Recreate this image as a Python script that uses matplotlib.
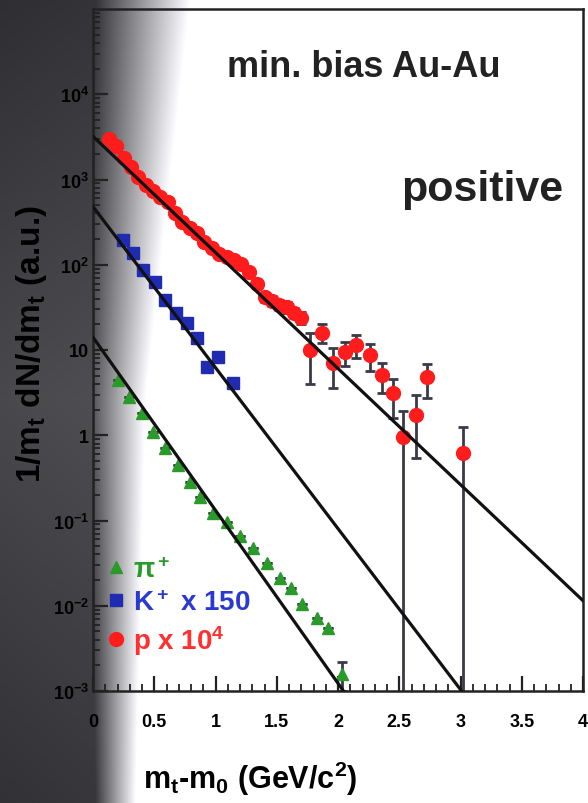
import numpy as np
import matplotlib.pyplot as plt
from matplotlib.ticker import MultipleLocator, LogLocator, NullFormatter

plt.rcParams['font.family'] = ['Liberation Sans', 'DejaVu Sans']
plt.rcParams['font.weight'] = 'bold'
plt.rcParams['mathtext.fontset'] = 'custom'
plt.rcParams['mathtext.rm'] = 'Liberation Sans:bold'
plt.rcParams['mathtext.bf'] = 'Liberation Sans:bold'
plt.rcParams['mathtext.it'] = 'Liberation Sans:bold'
plt.rcParams['mathtext.default'] = 'bf'

# pi+ spectrum
pi_x = [0.20, 0.29, 0.40, 0.49, 0.59, 0.69, 0.79, 0.87, 0.98, 1.09, 1.20, 1.31,
        1.42, 1.53, 1.62, 1.71, 1.83, 1.92, 2.03]
pi_y = [4.5, 2.8, 1.8, 1.1, 0.71, 0.45, 0.28, 0.19, 0.123, 0.095, 0.066, 0.047,
        0.032, 0.021, 0.016, 0.0105, 0.0072, 0.0055, 0.0016]
pi_err = [0, 0, 0, 0, 0, 0, 0, 0, 0, 0, 0, 0, 0, 0, 0, 0, 0, 0, 0.0006]

# K+ spectrum (x 150)
k_x = [0.245, 0.33, 0.41, 0.51, 0.59, 0.68, 0.77, 0.85, 0.93, 1.02, 1.14]
k_y = [195, 138, 87, 62, 39, 27.5, 21, 14, 6.3, 8.3, 4.1]

# proton spectrum (x 10^4)
p_x = [0.13, 0.19, 0.25, 0.31, 0.37, 0.43, 0.49, 0.55, 0.61, 0.67, 0.73, 0.79,
       0.85, 0.91, 0.97, 1.03, 1.09, 1.15, 1.21, 1.27, 1.34, 1.40, 1.46, 1.52,
       1.58, 1.64, 1.70, 1.77, 1.87, 1.96, 2.06, 2.15, 2.26, 2.36, 2.45, 2.53,
       2.64, 2.73, 3.02]
p_y = [2950, 2500, 1800, 1400, 1070, 870, 740, 630, 550, 400, 316, 270,
       234, 186, 158, 135, 123, 115, 102, 83, 60, 42, 38, 34,
       32, 27.5, 24, 10, 16, 7.1, 9.5, 11.5, 8.7, 5.1, 3.1, 0.95,
       1.74, 4.8, 0.62]
p_err = [60, 50, 36, 28, 21, 17, 15, 13, 11, 8, 6.3, 5.4,
         4.7, 3.7, 3.2, 3.4, 3.1, 3.5, 3.1, 6, 5, 5, 5, 4.8,
         4.5, 4, 4, 6, 4, 3.5, 3, 3.5, 3, 2, 1.5, 1.0,
         1.2, 2.1, 0.63]

# exponential fits: amplitude, inverse slope (GeV)
fit_amp = {'pi': 14.1, 'k': 480.0, 'p': 3200.0}
fit_T = {'pi': 0.214, 'k': 0.230, 'p': 0.319}

x_ticks = [0, 0.5, 1, 1.5, 2, 2.5, 3, 3.5, 4]
x_tick_labels = ['0', '0.5', '1', '1.5', '2', '2.5', '3', '3.5', '4']
y_ticks = [1e-3, 1e-2, 1e-1, 1, 10, 1e2, 1e3, 1e4]
y_tick_labels = ['10$^{-3}$', '10$^{-2}$', '10$^{-1}$', '1', '10',
                 '10$^{2}$', '10$^{3}$', '10$^{4}$']

fig = plt.figure(figsize=(5.88, 8.04), dpi=100)

# scanned-page shading on the left, wider near the top
cols = np.arange(588)
grad = np.ones((804, 588))
for r in range(804):
    we = np.interp(r, [0, 400, 804], [190, 145, 135])
    wd = np.interp(r, [0, 400, 804], [95, 55, 40])
    dk = np.interp(r, [0, 400, 804], [52, 78, 55])
    grad[r] = np.interp(cols, [0, we - wd, we], [dk - 5, dk, 255]) / 255.0
img = np.dstack([grad, grad, np.clip(grad + 0.015, 0, 1)])
bg = fig.add_axes([0, 0, 1, 1], zorder=0)
bg.imshow(img, aspect='auto', extent=[0, 1, 0, 1])
bg.axis('off')

ax = fig.add_axes([93 / 588, 112 / 804, 490 / 588, 682 / 804], zorder=1)
ax.set_facecolor('none')
ax.set_yscale('log')
ax.set_xlim(0, 4)
ax.set_ylim(1e-3, 1e5)

red = '#ff1c1c'
blue = '#1f2bb0'
green = '#2a9a2a'

ax.errorbar(p_x, p_y, yerr=p_err, fmt='none', ecolor='#3a3a48',
            elinewidth=2, capsize=3.5, capthick=2, zorder=2)
ax.errorbar(pi_x, pi_y, yerr=pi_err, fmt='none', ecolor='#3a3a48',
            elinewidth=2, capsize=3.5, capthick=2, zorder=2)

h_pi, = ax.plot(pi_x, pi_y, '^', color=green, ms=8.5, mec=green, zorder=3)
h_k, = ax.plot(k_x, k_y, 's', color=blue, ms=9, mec=blue, zorder=3)
h_p, = ax.plot(p_x, p_y, 'o', color=red, ms=10, mec=red, zorder=3)

xx = np.linspace(0, 4, 200)
for key in ['pi', 'k', 'p']:
    ax.plot(xx, fit_amp[key] * np.exp(-xx / fit_T[key]), color='#111111',
            lw=2.3, zorder=4)

ax.set_xticks(x_ticks)
ax.set_xticklabels(x_tick_labels)
ax.xaxis.set_minor_locator(MultipleLocator(0.1))
ax.set_yticks(y_ticks)
ax.set_yticklabels(y_tick_labels)
ax.yaxis.set_minor_locator(LogLocator(base=10, subs=np.arange(2, 10)))
ax.yaxis.set_minor_formatter(NullFormatter())
ax.tick_params(which='major', direction='in', length=11, width=1.6,
               labelsize=13, color='#222222')
ax.tick_params(which='minor', direction='in', length=5, width=1.3,
               color='#222222')
ax.tick_params(axis='x', pad=16)
ax.tick_params(axis='y', pad=3)
for s in ax.spines.values():
    s.set_linewidth(1.8)
    s.set_color('#222222')

ax.set_xlabel('m$_t$-m$_0$ (GeV/c$^2$)', fontsize=22, fontweight='bold')
ax.xaxis.set_label_coords(0.32, -0.1)
ax.set_ylabel('1/m$_t$ dN/dm$_t$ (a.u.)', fontsize=24, fontweight='bold')
ax.yaxis.set_label_coords(-0.09, 0.51)

ax.text(0.553, 0.916, 'min. bias Au-Au', transform=ax.transAxes,
        ha='center', va='center', fontsize=26, fontweight='bold', color='#222222')
ax.text(0.794, 0.736, 'positive', transform=ax.transAxes,
        ha='center', va='center', fontsize=31, fontweight='bold', color='#222222')

leg = ax.legend([h_pi, h_k, h_p], ['π$^+$', 'K$^+$ x 150', 'p x 10$^4$'],
                loc='lower left', bbox_to_anchor=(0.03, 0.05), frameon=False,
                handlelength=0.6, handletextpad=0.3, labelspacing=0.25,
                fontsize=20, borderaxespad=0, borderpad=0)
for t, c in zip(leg.get_texts(), [green, '#2a3ad0', '#ff3030']):
    t.set_color(c)

fig.savefig('out.png', dpi=100)
